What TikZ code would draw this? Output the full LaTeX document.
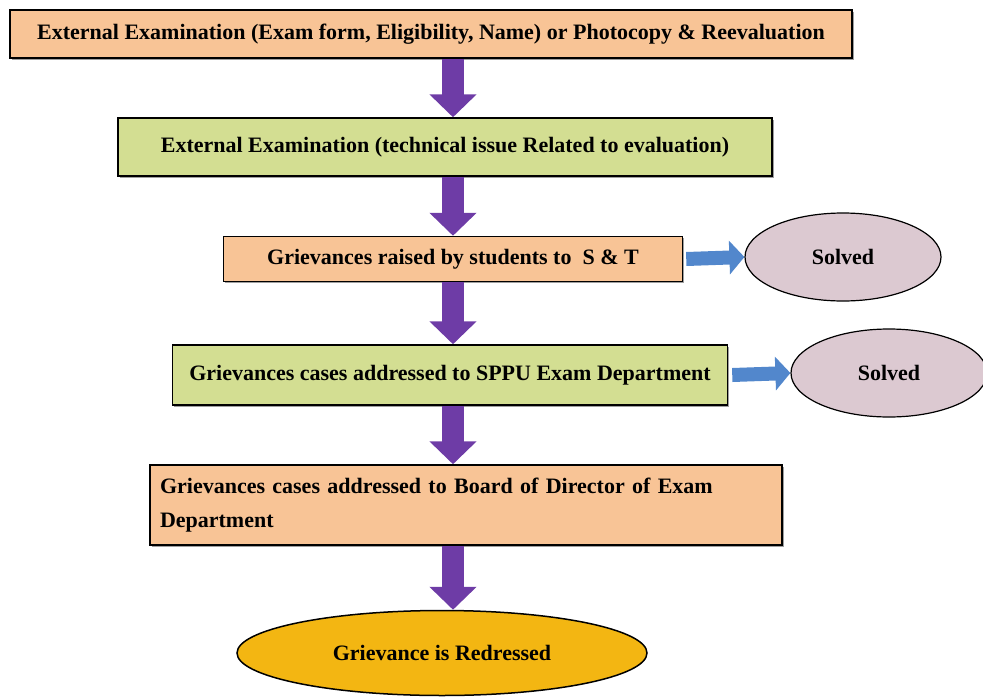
\documentclass[tikz,border=0pt]{standalone}
\usepackage{fontspec}
\setmainfont{Liberation Serif}
\usetikzlibrary{shapes.geometric,arrows.meta,positioning,shadows}
\definecolor{boxorange}{HTML}{F8C496}
\definecolor{boxgreen}{HTML}{D3DE92}
\definecolor{solvedfill}{HTML}{DCC9D1}
\definecolor{goldfill}{HTML}{F3B612}
\definecolor{flowpurple}{HTML}{6E3CA6}
\definecolor{flowblue}{HTML}{5287CC}

\begin{document}
\begin{tikzpicture}
[x=1pt,y=-1pt,%
  every node/.style={draw=black,line width=1.5pt,inner sep=0pt,%
    font=\bfseries\fontsize{22}{34}\selectfont},%
  orangebox/.style={rectangle,fill=boxorange,%
    drop shadow={shadow xshift=1.5pt,shadow yshift=-1.5pt,fill=black!75}},%
  greenbox/.style={rectangle,fill=boxgreen,%
    drop shadow={shadow xshift=1.5pt,shadow yshift=-1.5pt,fill=black!75}},%
  solved/.style={ellipse,fill=solvedfill,line width=1.2pt,%
    minimum width=196pt,minimum height=88pt},%
  downflow/.style={line width=22pt,draw=flowpurple,-{Triangle[length=23pt,width=46pt]}},%
  sideflow/.style={line width=14pt,draw=flowblue,-{Triangle[length=15pt,width=33pt]}}]
\useasboundingbox (0,0) rectangle (983,699);
\node[orangebox,minimum width=842pt,minimum height=48pt] (exam) at (431,34)
  {External Examination (Exam form, Eligibility, Name) or Photocopy \& Reevaluation};
\node[greenbox,minimum width=654pt,minimum height=58pt] (tech) at (445,147)
  {External Examination (technical issue Related to evaluation)};
\node[orangebox,minimum width=459pt,minimum height=45pt] (raised) at (453,259)
  {Grievances raised by students to \ S \& T};
\node[greenbox,minimum width=555pt,minimum height=60pt] (sppu) at (450,375)
  {Grievances cases addressed to SPPU Exam Department};
\node[orangebox,minimum width=632pt,minimum height=80pt,text width=612pt,align=left] (board) at (466,505)
  {Grievances cases addressed to Board of Director of Exam\\Department};
\node[solved] (solvedst) at (843,257) {Solved};
\node[solved] (solvedsppu) at (889,373) {Solved};
\node[ellipse,fill=goldfill,minimum width=410pt,minimum height=85pt] (redressed) at (442,653)
  {Grievance is Redressed};
% flow down the middle
\coordinate (axis) at (453,0);
\draw[downflow] (exam.south -| axis) -- (tech.north -| axis);
\draw[downflow] (tech.south -| axis) -- (raised.north -| axis);
\draw[downflow] (raised.south -| axis) -- (sppu.north -| axis);
\draw[downflow] (sppu.south -| axis) -- (board.north -| axis);
\draw[downflow] (board.south -| axis) -- (redressed.north -| axis);
% side exits
\draw[sideflow] ([xshift=3pt]raised.east) -- (solvedst.west);
\draw[sideflow] ([xshift=4pt]sppu.east) -- (solvedsppu.west);
\end{tikzpicture}
\end{document}
